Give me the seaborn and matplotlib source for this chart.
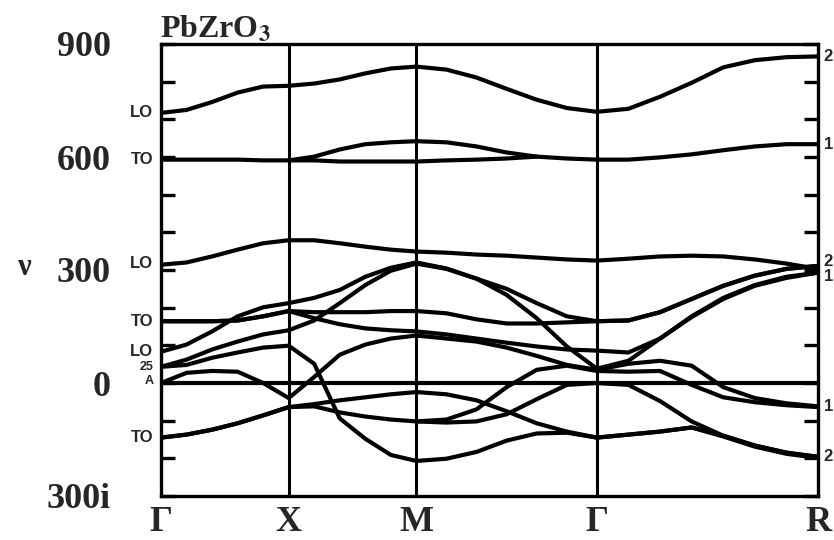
import numpy as np
import pandas as pd
import matplotlib
matplotlib.use("Agg")
import matplotlib.pyplot as plt
from matplotlib.ticker import FixedLocator, MultipleLocator
import seaborn as sns

nan = np.nan

# wave-vector path coordinate (Γ-X-M-Γ-R)
q_path = [0.0, 0.2, 0.4, 0.6, 0.8, 1.0,
          1.2, 1.4, 1.6, 1.8, 2.0,
          2.236, 2.471, 2.707, 2.943, 3.179, 3.414,
          3.661, 3.909, 4.156, 4.404, 4.651, 4.899, 5.146]
k_ticks = [0.0, 1.0, 2.0, 3.414, 5.146]
k_labels = ["Γ", "X", "M", "Γ", "R"]

# frequencies (cm^-1, negative = imaginary)
band_LO_high = [717, 725, 746, 771, 787, 789, 795, 806, 822, 835, 840, 832, 811, 781, 752, 730, 720, 728, 760, 797, 838, 857, 865, 867]
band_TO_high = [593, 593, 593, 593, 591, 591, 591, 588, 588, 588, 588, 591, 593, 596, 601, 596, 593, 593, 599, 607, 618, 628, 634, 634]
band_TO_split = [nan, nan, nan, nan, nan, 591, 601, 620, 634, 639, 642, 639, 628, 612, 601, nan, nan, nan, nan, nan, nan, nan, nan, nan]
band_LO_mid = [314, 320, 336, 354, 371, 379, 379, 371, 362, 354, 349, 346, 341, 338, 333, 328, 325, 330, 336, 338, 336, 328, 317, 303]
band_1 = [83, 102, 137, 177, 201, 212, 226, 247, 282, 306, 320, 304, 277, 250, 212, 177, 164, 166, 188, 223, 258, 285, 303, 311]
band_2 = [164, 164, 164, 166, 177, 191, 188, 188, 188, 191, 191, 185, 169, 158, 158, 161, 164, 166, 188, 223, 258, 285, 303, 311]
band_3 = [164, 164, 164, 166, 177, 191, 172, 156, 145, 140, 137, 129, 118, 107, 97, 89, 86, 81, 118, 177, 226, 260, 282, 293]
band_4 = [43, 62, 89, 110, 129, 140, 166, 212, 260, 298, 317, 303, 277, 234, 172, 97, 38, 59, 118, 175, 223, 258, 279, 293]
band_5 = [43, 48, 67, 81, 94, 99, 51, -94, -148, -191, -207, -201, -183, -153, -134, -132, -145, -137, -129, -118, -140, -166, -185, -196]
band_6 = [0, 27, 32, 30, 0, -40, 16, 75, 102, 118, 126, 118, 110, 94, 72, 48, 35, 51, 59, 46, -11, -40, -54, -62]
band_7 = [-145, -137, -124, -107, -86, -64, -56, -46, -38, -30, -24, -30, -46, -75, -107, -129, -145, -137, -129, -118, -142, -169, -188, -199]
band_8 = [-145, -137, -124, -107, -86, -64, -62, -78, -89, -97, -102, -105, -102, -83, -43, -5, 0, -5, -48, -102, -140, -166, -185, -196]
band_9 = [nan, nan, nan, nan, nan, nan, nan, nan, nan, nan, -102, -97, -70, -11, 35, 46, 32, 30, 32, -5, -38, -51, -59, -64]

bands = {
    "LO_high": band_LO_high, "TO_high": band_TO_high, "TO_split": band_TO_split,
    "LO_mid": band_LO_mid, "b1": band_1, "b2": band_2, "b3": band_3, "b4": band_4,
    "b5": band_5, "b6": band_6, "b7": band_7, "b8": band_8, "b9": band_9,
}

y_major = [-300, 0, 300, 600, 900]
y_major_labels = ["300i", "0", "300", "600", "900"]
left_labels = ["LO", "TO", "LO", "TO", "LO", "25", "A", "TO"]
left_label_v = [717, 593, 317, 164, 83, 43, 5, -145]
right_labels = ["2", "1", "2", "1", "1", "2"]
right_label_v = [867, 634, 322, 282, -62, -196]

frames = []
for name, vals in bands.items():
    frames.append(pd.DataFrame({"q": q_path, "nu": vals, "band": name}))
df = pd.concat(frames, ignore_index=True).dropna()

sns.set_theme(style="white")
plt.rcParams["font.family"] = ["Liberation Serif", "DejaVu Serif"]
plt.rcParams["mathtext.fontset"] = "stix"

fig = plt.figure(figsize=(8.34, 5.40), dpi=100)
ax = fig.add_axes([161 / 834, 44 / 540, 657 / 834, 452 / 540])

sns.lineplot(data=df, x="q", y="nu", units="band", estimator=None,
             color="black", linewidth=3.0, sort=True, ax=ax, legend=False)

ax.axhline(0, color="black", linewidth=3.0, zorder=3)
for xv in k_ticks[1:-1]:
    ax.axvline(xv, color="black", linewidth=2.2, zorder=1)

ax.set_xlim(k_ticks[0], k_ticks[-1])
ax.set_ylim(-300, 900)
ax.set_xlabel("")
ax.set_ylabel("")

for s in ax.spines.values():
    s.set_color("black")
    s.set_linewidth(2.4)

ax.set_xticks(k_ticks)
ax.set_xticklabels(k_labels, fontsize=26, fontweight="bold")
ax.tick_params(axis="x", length=0, pad=7)

ax.yaxis.set_major_locator(FixedLocator(y_major))
ax.set_yticklabels(y_major_labels, fontsize=26, fontweight="bold")
ax.yaxis.set_minor_locator(MultipleLocator(100))
ax.tick_params(axis="y", which="both", direction="in", left=True, right=True,
               length=10, width=2.4, pad=36, color="black")

for lab, v in zip(left_labels, left_label_v):
    fs = 9 if lab in ("25", "A") else 12
    ax.text(-0.06, v, lab, ha="right", va="center", fontsize=fs,
            fontweight="bold", family=["Liberation Sans", "DejaVu Sans"])
for lab, v in zip(right_labels, right_label_v):
    ax.text(5.19, v, lab, ha="left", va="center", fontsize=12,
            fontweight="bold", family=["Liberation Sans", "DejaVu Sans"],
            clip_on=False)

fig.text(25 / 834, 1 - 268 / 540, "ν", ha="center", va="center",
         fontsize=22, fontweight="bold")
fig.text(160 / 834, 1 - 38 / 540, r"PbZrO$_{\mathbf{3}}$", ha="left",
         va="baseline", fontsize=23, fontweight="bold")

fig.savefig("out.png", dpi=100)
